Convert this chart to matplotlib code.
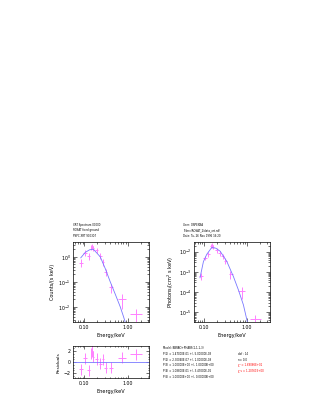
import numpy as np
import matplotlib
matplotlib.use("Agg")
import matplotlib.pyplot as plt
from matplotlib.ticker import FixedLocator, FixedFormatter, LogLocator, NullFormatter, MultipleLocator

# --- DATA ---
energy = [0.082, 0.104, 0.124, 0.143, 0.152, 0.160, 0.194, 0.232, 0.270, 0.310, 0.410, 0.750, 1.590]
e_lo = [0.073, 0.094, 0.114, 0.138, 0.148, 0.156, 0.180, 0.212, 0.252, 0.285, 0.370, 0.610, 1.170]
e_hi = [0.092, 0.114, 0.134, 0.148, 0.156, 0.166, 0.210, 0.252, 0.285, 0.340, 0.460, 0.920, 2.170]

counts = [0.58, 1.45, 1.07, 2.40, 2.60, 2.20, 1.85, 1.10, 0.62, 0.25, 0.060, 0.0198, 0.0050]
counts_err = [0.20, 0.35, 0.30, 0.55, 0.60, 0.50, 0.45, 0.30, 0.18, 0.08, 0.025, 0.012, 0.0030]

photons = [6.3e-4, 5.0e-3, 7.4e-3, 0.019, 0.021, 0.017, 0.012, 0.0085, 0.0058, 0.0035, 7.6e-4, 1.1e-4, 4.7e-6]
photons_err = [2.2e-4, 1.2e-3, 2.0e-3, 4.5e-3, 5.0e-3, 4.0e-3, 3.0e-3, 2.3e-3, 1.7e-3, 1.1e-3, 3.0e-4, 6.5e-5, 2.8e-6]

resid = [-1.3, 0.67, -1.45, 1.5, 2.0, 1.0, 0.55, -0.25, 0.5, -1.0, -1.0, 0.8, 1.4]
resid_err = [1.0] * 13

# model curves
model_e = [0.082, 0.104, 0.131, 0.155, 0.162, 0.232, 0.303, 0.396, 0.518, 0.676, 0.807, 0.885]
model_counts = [0.91, 1.5, 1.9, 2.0, 1.98, 1.0, 0.34, 0.10, 0.032, 0.010, 0.004, 0.0024]

model_ph_e = [0.079, 0.095, 0.114, 0.149, 0.186, 0.235, 0.337, 0.483, 0.634, 0.83, 1.0, 1.03]
model_ph = [5.1e-4, 3.2e-3, 7.4e-3, 0.016, 0.0148, 0.0105, 3.3e-3, 5.8e-4, 1.26e-4, 2.3e-5, 4.2e-6, 3.2e-6]

header_left = ["XRT Spectrum 00000", "ROSAT fixed ground", "PSPC XRT 900307"]
header_right = ["User: OSPEXBA", "Telesc/ROSAT_2/data_xrt.rdf", "Date: Tu, 26 Nov 1996 16:20"]
model_lines = ["Model: BBRAD+PHABS(1,1,1,3)",
               "P(1) = 1.47000E-01 +/- 5.00000E-03",
               "P(2) = 2.30040E-07 +/- 1.00000E-08",
               "P(3) = 1.00000E+00 +/- 1.00000E+00",
               "P(4) = 1.08800E-01 +/- 3.47000E-02",
               "P(5) = 1.00000E+00 +/- 0.00000E+00"]
stat_lines = ["dof : 14", "n= 0.0", "χ² = 1.69066E+01", "χ²ν = 1.20761E+00"]
stat_colors = ["black", "black", "red", "red"]

XLIM = (0.055, 3.2)
DATA_C = "#ff80ff"
MODEL_C = "#7878ff"
FS = 1.9


def style_axis(ax):
    ax.tick_params(which="both", direction="in", top=True, right=True,
                   labelsize=3.4, width=0.4, pad=2)
    ax.tick_params(which="major", length=3)
    ax.tick_params(which="minor", length=1.5)
    for s in ax.spines.values():
        s.set_linewidth(0.5)


def energy_axis(ax, xlim):
    ax.set_xscale("log")
    ax.set_xlim(*xlim)
    ax.xaxis.set_major_locator(FixedLocator([0.1, 1.0]))
    ax.xaxis.set_major_formatter(FixedFormatter(["0.10", "1.00"]))
    ax.xaxis.set_minor_locator(LogLocator(base=10, subs=np.arange(2, 10)))
    ax.xaxis.set_minor_formatter(NullFormatter())
    ax.set_xlabel("Energy/keV", fontsize=3.6, labelpad=2)


def crosses(ax, y, yerr):
    x = np.array(energy)
    xerr = [x - np.array(e_lo), np.array(e_hi) - x]
    ax.errorbar(x, y, xerr=xerr, yerr=yerr, fmt="none", ecolor=DATA_C,
                elinewidth=0.7, capsize=0)


fig = plt.figure(figsize=(3.27, 4.09), dpi=100)

# left: counts
ax1 = fig.add_axes([0.2242, 0.2120, 0.2324, 0.1956])
crosses(ax1, counts, counts_err)
ax1.plot(model_e, model_counts, color=MODEL_C, lw=0.6)
ax1.set_yscale("log")
ax1.set_ylim(2.4e-3, 3.8)
energy_axis(ax1, XLIM)
ax1.set_ylabel("Counts/(s keV)", fontsize=3.6, labelpad=2)
style_axis(ax1)

# right: photons
ax2 = fig.add_axes([0.5942, 0.2120, 0.2315, 0.1956])
crosses(ax2, photons, photons_err)
ax2.plot(model_ph_e, model_ph, color=MODEL_C, lw=0.6)
ax2.set_yscale("log")
ax2.set_ylim(3.2e-6, 0.029)
energy_axis(ax2, (0.058, 3.5))
ax2.set_ylabel("Photons/(cm$^2$ s keV)", fontsize=3.6, labelpad=2)
style_axis(ax2)

# residuals
ax3 = fig.add_axes([0.2242, 0.0751, 0.2324, 0.0790])
crosses(ax3, resid, resid_err)
ax3.axhline(0, color=MODEL_C, lw=0.6)
ax3.set_ylim(-2.9, 2.9)
energy_axis(ax3, XLIM)
ax3.yaxis.set_major_locator(FixedLocator([-2, 0, 2]))
ax3.yaxis.set_minor_locator(MultipleLocator(0.5))
ax3.set_ylabel("Residuals", fontsize=3.2, labelpad=2)
style_axis(ax3)
ax3.tick_params(which="major", length=2)
ax3.tick_params(which="minor", length=1)

# header texts
for i, t in enumerate(header_left):
    fig.text(0.224, 0.450 - i * 0.013, t, fontsize=FS, va="center")
for i, t in enumerate(header_right):
    fig.text(0.559, 0.450 - i * 0.013, t, fontsize=FS, va="center")

# model block
ys = [0.150, 0.1345, 0.1205, 0.1068, 0.093, 0.079]
for y, t in zip(ys, model_lines):
    fig.text(0.499, y, t, fontsize=FS, va="center")
for y, t, c in zip(ys[1:], stat_lines, stat_colors):
    fig.text(0.729, y, t, fontsize=FS, va="center", color=c)

fig.savefig("out.png", dpi=100)
